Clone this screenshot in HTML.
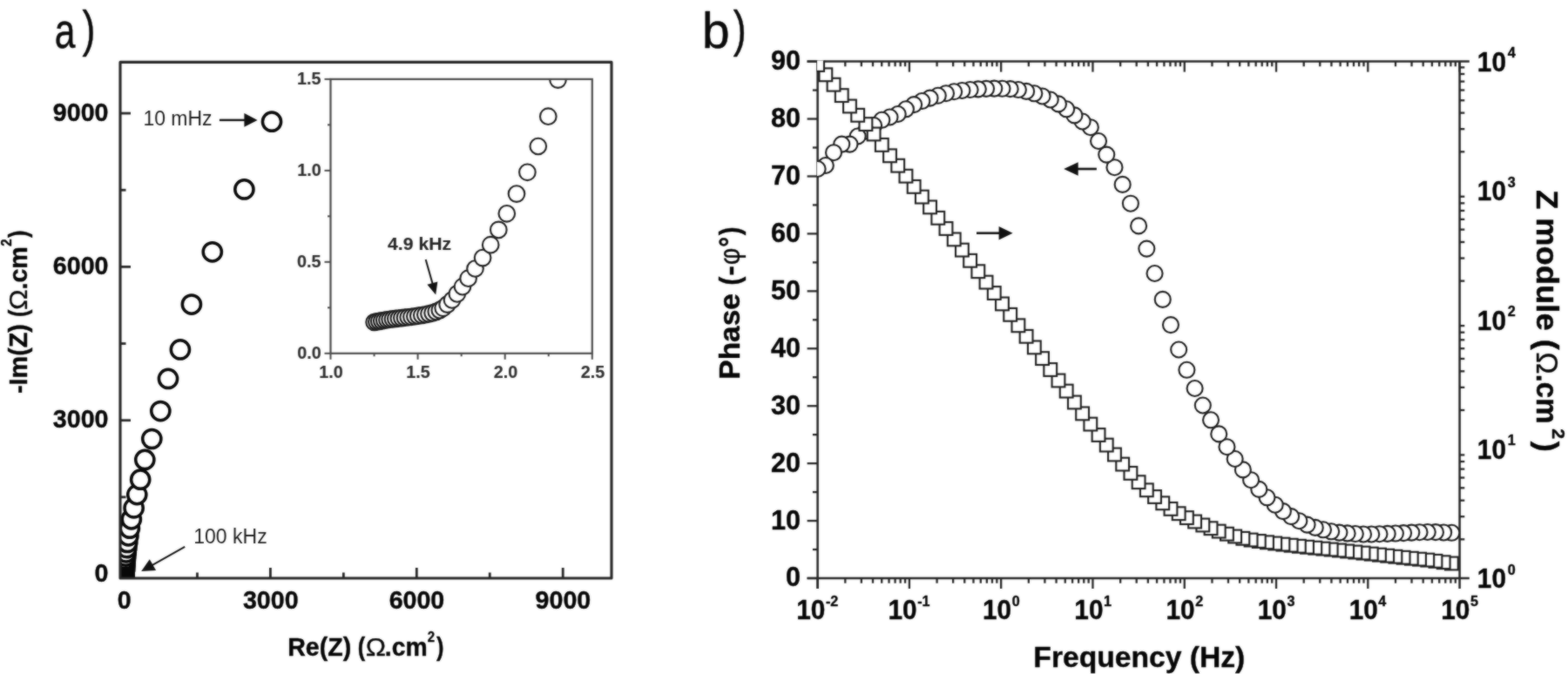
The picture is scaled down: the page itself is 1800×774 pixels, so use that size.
<!DOCTYPE html>
<html lang="en"><head><meta charset="utf-8"><title>EIS Nyquist and Bode plots</title>
<style>html,body{margin:0;padding:0;background:#fff;}body{width:1800px;height:774px;overflow:hidden;}svg{display:block;}</style>
</head><body>
<svg width="1800" height="774" viewBox="0 0 1800 774" font-family="'Liberation Sans', Arial, Helvetica, sans-serif">
<defs><filter id="bl" x="0" y="0" width="100%" height="100%" color-interpolation-filters="sRGB"><feGaussianBlur in="SourceGraphic" stdDeviation="0.8" result="b"/><feComposite in="SourceGraphic" in2="b" operator="arithmetic" k1="0" k2="0.45" k3="0.55" k4="0"/></filter></defs>
<g filter="url(#bl)">
<rect width="1800" height="774" fill="#fff"/>
<text font-size="57.5" font-weight="normal" fill="#0a0a0a" stroke="#0a0a0a" stroke-width="0.5" stroke-linejoin="round"><tspan x="62.80" y="54.6" textLength="23.67" lengthAdjust="spacingAndGlyphs">a</tspan><tspan x="94.60" y="53.0" textLength="14.94" lengthAdjust="spacingAndGlyphs">)</tspan></text>
<text font-size="57.5" font-weight="normal" fill="#0a0a0a" stroke="#0a0a0a" stroke-width="0.5" stroke-linejoin="round"><tspan x="806.00" y="54.6" textLength="31.66" lengthAdjust="spacingAndGlyphs">b</tspan><tspan x="841.80" y="53.0" textLength="14.94" lengthAdjust="spacingAndGlyphs">)</tspan></text>
<clipPath id="ca"><rect x="138.0" y="71.4" width="564.0" height="592.6"/></clipPath>
<clipPath id="ci"><rect x="379.4" y="91.0" width="300.4" height="314.8"/></clipPath>
<line x1="142.50" y1="664.00" x2="142.50" y2="652.00" stroke="#262626" stroke-width="2.8" />
<line x1="138.00" y1="659.00" x2="150.00" y2="659.00" stroke="#262626" stroke-width="2.8" />
<line x1="310.40" y1="664.00" x2="310.40" y2="652.00" stroke="#262626" stroke-width="2.8" />
<line x1="138.00" y1="482.70" x2="150.00" y2="482.70" stroke="#262626" stroke-width="2.8" />
<line x1="478.30" y1="664.00" x2="478.30" y2="652.00" stroke="#262626" stroke-width="2.8" />
<line x1="138.00" y1="306.40" x2="150.00" y2="306.40" stroke="#262626" stroke-width="2.8" />
<line x1="646.20" y1="664.00" x2="646.20" y2="652.00" stroke="#262626" stroke-width="2.8" />
<line x1="138.00" y1="130.10" x2="150.00" y2="130.10" stroke="#262626" stroke-width="2.8" />
<line x1="226.45" y1="664.00" x2="226.45" y2="657.50" stroke="#262626" stroke-width="2.8" />
<line x1="138.00" y1="570.85" x2="144.50" y2="570.85" stroke="#262626" stroke-width="2.8" />
<line x1="394.35" y1="664.00" x2="394.35" y2="657.50" stroke="#262626" stroke-width="2.8" />
<line x1="138.00" y1="394.55" x2="144.50" y2="394.55" stroke="#262626" stroke-width="2.8" />
<line x1="562.25" y1="664.00" x2="562.25" y2="657.50" stroke="#262626" stroke-width="2.8" />
<line x1="138.00" y1="218.25" x2="144.50" y2="218.25" stroke="#262626" stroke-width="2.8" />
<g clip-path="url(#ca)" fill="#fff" stroke="#080808" stroke-width="3.5">
<circle cx="142.58" cy="658.99" r="10.6"/>
<circle cx="142.58" cy="658.99" r="10.6"/>
<circle cx="142.58" cy="658.99" r="10.6"/>
<circle cx="142.58" cy="658.99" r="10.6"/>
<circle cx="142.58" cy="658.99" r="10.6"/>
<circle cx="142.58" cy="658.99" r="10.6"/>
<circle cx="142.59" cy="658.99" r="10.6"/>
<circle cx="142.59" cy="658.99" r="10.6"/>
<circle cx="142.59" cy="658.99" r="10.6"/>
<circle cx="142.59" cy="658.99" r="10.6"/>
<circle cx="142.59" cy="658.99" r="10.6"/>
<circle cx="142.59" cy="658.99" r="10.6"/>
<circle cx="142.59" cy="658.99" r="10.6"/>
<circle cx="142.60" cy="658.99" r="10.6"/>
<circle cx="142.60" cy="658.99" r="10.6"/>
<circle cx="142.60" cy="658.99" r="10.6"/>
<circle cx="142.60" cy="658.99" r="10.6"/>
<circle cx="142.60" cy="658.98" r="10.6"/>
<circle cx="142.60" cy="658.98" r="10.6"/>
<circle cx="142.60" cy="658.98" r="10.6"/>
<circle cx="142.61" cy="658.98" r="10.6"/>
<circle cx="142.61" cy="658.98" r="10.6"/>
<circle cx="142.61" cy="658.98" r="10.6"/>
<circle cx="142.61" cy="658.97" r="10.6"/>
<circle cx="142.61" cy="658.97" r="10.6"/>
<circle cx="142.61" cy="658.97" r="10.6"/>
<circle cx="142.61" cy="658.96" r="10.6"/>
<circle cx="142.62" cy="658.96" r="10.6"/>
<circle cx="142.62" cy="658.95" r="10.6"/>
<circle cx="142.62" cy="658.94" r="10.6"/>
<circle cx="142.63" cy="658.93" r="10.6"/>
<circle cx="142.63" cy="658.92" r="10.6"/>
<circle cx="142.64" cy="658.91" r="10.6"/>
<circle cx="142.64" cy="658.90" r="10.6"/>
<circle cx="142.64" cy="658.88" r="10.6"/>
<circle cx="142.65" cy="658.86" r="10.6"/>
<circle cx="142.65" cy="658.83" r="10.6"/>
<circle cx="142.65" cy="658.80" r="10.6"/>
<circle cx="142.65" cy="658.76" r="10.6"/>
<circle cx="142.66" cy="658.71" r="10.6"/>
<circle cx="142.66" cy="658.65" r="10.6"/>
<circle cx="142.67" cy="658.58" r="10.6"/>
<circle cx="142.67" cy="658.49" r="10.6"/>
<circle cx="142.68" cy="658.39" r="10.6"/>
<circle cx="142.68" cy="658.26" r="10.6"/>
<circle cx="142.68" cy="658.10" r="10.6"/>
<circle cx="142.70" cy="657.91" r="10.6"/>
<circle cx="142.72" cy="657.66" r="10.6"/>
<circle cx="142.74" cy="657.36" r="10.6"/>
<circle cx="142.76" cy="657.02" r="10.6"/>
<circle cx="142.78" cy="656.59" r="10.6"/>
<circle cx="142.81" cy="656.05" r="10.6"/>
<circle cx="142.85" cy="655.41" r="10.6"/>
<circle cx="142.90" cy="654.63" r="10.6"/>
<circle cx="142.96" cy="653.69" r="10.6"/>
<circle cx="143.04" cy="652.56" r="10.6"/>
<circle cx="143.15" cy="651.19" r="10.6"/>
<circle cx="143.29" cy="649.53" r="10.6"/>
<circle cx="143.46" cy="647.52" r="10.6"/>
<circle cx="143.68" cy="645.08" r="10.6"/>
<circle cx="143.96" cy="642.13" r="10.6"/>
<circle cx="144.32" cy="638.62" r="10.6"/>
<circle cx="144.79" cy="634.38" r="10.6"/>
<circle cx="145.43" cy="629.17" r="10.6"/>
<circle cx="146.28" cy="622.97" r="10.6"/>
<circle cx="147.42" cy="615.36" r="10.6"/>
<circle cx="148.89" cy="606.65" r="10.6"/>
<circle cx="150.84" cy="596.31" r="10.6"/>
<circle cx="153.63" cy="583.38" r="10.6"/>
<circle cx="157.30" cy="568.11" r="10.6"/>
<circle cx="161.18" cy="550.69" r="10.6"/>
<circle cx="166.30" cy="527.90" r="10.6"/>
<circle cx="174.30" cy="504.00" r="10.6"/>
<circle cx="184.30" cy="472.10" r="10.6"/>
<circle cx="193.00" cy="434.90" r="10.6"/>
<circle cx="206.90" cy="401.40" r="10.6"/>
<circle cx="219.90" cy="349.60" r="10.6"/>
<circle cx="243.80" cy="289.30" r="10.6"/>
<circle cx="280.40" cy="217.40" r="10.6"/>
<circle cx="312.00" cy="139.70" r="10.6"/>
</g>
<rect x="138.0" y="71.4" width="564.0" height="592.6" fill="none" stroke="#262626" stroke-width="3.1" stroke-linejoin="round"/>
<text transform="translate(134.66,698.70) scale(0.9700,1)" font-size="29.50" font-weight="bold" text-anchor="start" fill="#050505" stroke="#050505" stroke-width="0.40" stroke-linejoin="round">0</text>
<text transform="translate(108.56,667.74) scale(0.9700,1)" font-size="29.50" font-weight="bold" text-anchor="start" fill="#050505" stroke="#050505" stroke-width="0.40" stroke-linejoin="round">0</text>
<text transform="translate(278.95,698.70) scale(0.9700,1)" font-size="29.50" font-weight="bold" text-anchor="start" fill="#050505" stroke="#050505" stroke-width="0.40" stroke-linejoin="round">3000</text>
<text transform="translate(60.85,491.40) scale(0.9700,1)" font-size="29.50" font-weight="bold" text-anchor="start" fill="#050505" stroke="#050505" stroke-width="0.40" stroke-linejoin="round">3000</text>
<text transform="translate(446.64,698.70) scale(0.9700,1)" font-size="29.50" font-weight="bold" text-anchor="start" fill="#050505" stroke="#050505" stroke-width="0.40" stroke-linejoin="round">6000</text>
<text transform="translate(60.85,315.14) scale(0.9700,1)" font-size="29.50" font-weight="bold" text-anchor="start" fill="#050505" stroke="#050505" stroke-width="0.40" stroke-linejoin="round">6000</text>
<text transform="translate(614.57,698.70) scale(0.9700,1)" font-size="29.50" font-weight="bold" text-anchor="start" fill="#050505" stroke="#050505" stroke-width="0.40" stroke-linejoin="round">9000</text>
<text transform="translate(60.85,138.84) scale(0.9700,1)" font-size="29.50" font-weight="bold" text-anchor="start" fill="#050505" stroke="#050505" stroke-width="0.40" stroke-linejoin="round">9000</text>
<text transform="translate(0.00,753.30)" font-size="29.00" font-weight="bold" fill="#050505" stroke="#050505" stroke-width="0.4" stroke-linejoin="round"><tspan x="330.22" y="0.00" textLength="72.96" lengthAdjust="spacingAndGlyphs">Re(Z)</tspan> <tspan x="410.82" y="0.00" textLength="8.50" lengthAdjust="spacingAndGlyphs">(</tspan><tspan x="419.72" y="0.00" textLength="23.36" lengthAdjust="spacingAndGlyphs" font-weight="normal" stroke-width="0.25">Ω</tspan><tspan x="441.84" y="0.00" textLength="48.83" lengthAdjust="spacingAndGlyphs">.cm</tspan><tspan x="490.87" y="-16.00" textLength="8.32" lengthAdjust="spacingAndGlyphs" font-size="17.00">2</tspan><tspan x="500.96" y="0.00" textLength="8.50" lengthAdjust="spacingAndGlyphs">)</tspan></text>
<text transform="translate(30.70,451.30) rotate(-90)" font-size="29.00" font-weight="bold" fill="#050505" stroke="#050505" stroke-width="0.4" stroke-linejoin="round"><tspan x="-0.70" y="0.00" textLength="79.87" lengthAdjust="spacingAndGlyphs">-Im(Z)</tspan> <tspan x="87.42" y="0.00" textLength="8.50" lengthAdjust="spacingAndGlyphs">(</tspan><tspan x="95.40" y="0.00" textLength="23.81" lengthAdjust="spacingAndGlyphs" font-weight="normal" stroke-width="0.25">Ω</tspan><tspan x="118.72" y="0.00" textLength="49.37" lengthAdjust="spacingAndGlyphs">.cm</tspan><tspan x="168.47" y="-17.40" textLength="8.32" lengthAdjust="spacingAndGlyphs" font-size="17.00">2</tspan><tspan x="178.26" y="0.00" textLength="8.50" lengthAdjust="spacingAndGlyphs">)</tspan></text>
<text transform="translate(164.38,143.70)" font-size="23.00" font-weight="normal" text-anchor="start" fill="#1c1c1c">10 mHz</text>
<line x1="251.90" y1="137.90" x2="282.40" y2="137.90" stroke="#111" stroke-width="2.4" />
<polygon points="295.60,137.90 280.40,145.80 280.40,130.00" fill="#111"/>
<text transform="translate(222.28,624.20)" font-size="23.00" font-weight="normal" text-anchor="start" fill="#1c1c1c">100 kHz</text>
<line x1="212.20" y1="627.80" x2="173.69" y2="649.60" stroke="#111" stroke-width="2.0" />
<polygon points="162.20,656.10 171.78,642.17 179.07,655.05" fill="#111"/>
<rect x="379.5" y="90.9" width="300.29999999999995" height="314.9" fill="#fff" stroke="none"/>
<line x1="379.50" y1="405.80" x2="379.50" y2="412.80" stroke="#4a4a4a" stroke-width="2" />
<line x1="379.50" y1="405.80" x2="372.50" y2="405.80" stroke="#4a4a4a" stroke-width="2" />
<line x1="479.60" y1="405.80" x2="479.60" y2="412.80" stroke="#4a4a4a" stroke-width="2" />
<line x1="379.50" y1="300.83" x2="372.50" y2="300.83" stroke="#4a4a4a" stroke-width="2" />
<line x1="579.70" y1="405.80" x2="579.70" y2="412.80" stroke="#4a4a4a" stroke-width="2" />
<line x1="379.50" y1="195.87" x2="372.50" y2="195.87" stroke="#4a4a4a" stroke-width="2" />
<line x1="679.80" y1="405.80" x2="679.80" y2="412.80" stroke="#4a4a4a" stroke-width="2" />
<line x1="379.50" y1="90.90" x2="372.50" y2="90.90" stroke="#4a4a4a" stroke-width="2" />
<line x1="429.55" y1="405.80" x2="429.55" y2="409.30" stroke="#4a4a4a" stroke-width="2" />
<line x1="379.50" y1="353.32" x2="376.00" y2="353.32" stroke="#4a4a4a" stroke-width="2" />
<line x1="529.65" y1="405.80" x2="529.65" y2="409.30" stroke="#4a4a4a" stroke-width="2" />
<line x1="379.50" y1="248.35" x2="376.00" y2="248.35" stroke="#4a4a4a" stroke-width="2" />
<line x1="629.75" y1="405.80" x2="629.75" y2="409.30" stroke="#4a4a4a" stroke-width="2" />
<line x1="379.50" y1="143.38" x2="376.00" y2="143.38" stroke="#4a4a4a" stroke-width="2" />
<g clip-path="url(#ci)" fill="#fff" stroke="#202020" stroke-width="2.1">
<circle cx="429.60" cy="370.00" r="9.3"/>
<circle cx="432.40" cy="369.44" r="9.3"/>
<circle cx="435.29" cy="368.88" r="9.3"/>
<circle cx="438.25" cy="368.33" r="9.3"/>
<circle cx="441.30" cy="367.79" r="9.3"/>
<circle cx="444.43" cy="367.27" r="9.3"/>
<circle cx="447.64" cy="366.77" r="9.3"/>
<circle cx="450.94" cy="366.30" r="9.3"/>
<circle cx="454.32" cy="365.88" r="9.3"/>
<circle cx="457.80" cy="365.48" r="9.3"/>
<circle cx="461.35" cy="365.09" r="9.3"/>
<circle cx="464.98" cy="364.70" r="9.3"/>
<circle cx="468.69" cy="364.27" r="9.3"/>
<circle cx="472.47" cy="363.80" r="9.3"/>
<circle cx="476.32" cy="363.25" r="9.3"/>
<circle cx="480.26" cy="362.65" r="9.3"/>
<circle cx="484.27" cy="361.99" r="9.3"/>
<circle cx="488.34" cy="361.24" r="9.3"/>
<circle cx="492.44" cy="360.37" r="9.3"/>
<circle cx="496.59" cy="359.31" r="9.3"/>
<circle cx="500.76" cy="357.92" r="9.3"/>
<circle cx="504.82" cy="356.17" r="9.3"/>
<circle cx="508.70" cy="353.80" r="9.3"/>
<circle cx="513.60" cy="349.60" r="9.3"/>
<circle cx="519.00" cy="344.50" r="9.3"/>
<circle cx="524.80" cy="337.40" r="9.3"/>
<circle cx="531.00" cy="329.20" r="9.3"/>
<circle cx="537.60" cy="319.70" r="9.3"/>
<circle cx="545.50" cy="308.50" r="9.3"/>
<circle cx="554.10" cy="296.10" r="9.3"/>
<circle cx="563.20" cy="281.20" r="9.3"/>
<circle cx="572.30" cy="263.90" r="9.3"/>
<circle cx="581.80" cy="245.30" r="9.3"/>
<circle cx="593.00" cy="222.60" r="9.3"/>
<circle cx="605.40" cy="197.80" r="9.3"/>
<circle cx="617.80" cy="168.00" r="9.3"/>
<circle cx="629.30" cy="133.70" r="9.3"/>
<circle cx="640.50" cy="91.60" r="9.3"/>
</g>
<rect x="379.5" y="90.9" width="300.29999999999995" height="314.9" fill="none" stroke="#4a4a4a" stroke-width="2.2"/>
<text transform="translate(366.32,433.70)" font-size="19.80" font-weight="bold" text-anchor="start" fill="#2e2e2e" stroke="#2e2e2e" stroke-width="0.15" stroke-linejoin="round">1.0</text>
<text transform="translate(466.29,433.70)" font-size="19.80" font-weight="bold" text-anchor="start" fill="#2e2e2e" stroke="#2e2e2e" stroke-width="0.15" stroke-linejoin="round">1.5</text>
<text transform="translate(566.79,433.70)" font-size="19.80" font-weight="bold" text-anchor="start" fill="#2e2e2e" stroke="#2e2e2e" stroke-width="0.15" stroke-linejoin="round">2.0</text>
<text transform="translate(666.76,433.70)" font-size="19.80" font-weight="bold" text-anchor="start" fill="#2e2e2e" stroke="#2e2e2e" stroke-width="0.15" stroke-linejoin="round">2.5</text>
<text transform="translate(341.27,411.61)" font-size="19.80" font-weight="bold" text-anchor="start" fill="#2e2e2e" stroke="#2e2e2e" stroke-width="0.15" stroke-linejoin="round">0.0</text>
<text transform="translate(341.02,306.64)" font-size="19.80" font-weight="bold" text-anchor="start" fill="#2e2e2e" stroke="#2e2e2e" stroke-width="0.15" stroke-linejoin="round">0.5</text>
<text transform="translate(341.27,201.67)" font-size="19.80" font-weight="bold" text-anchor="start" fill="#2e2e2e" stroke="#2e2e2e" stroke-width="0.15" stroke-linejoin="round">1.0</text>
<text transform="translate(341.02,96.61)" font-size="19.80" font-weight="bold" text-anchor="start" fill="#2e2e2e" stroke="#2e2e2e" stroke-width="0.15" stroke-linejoin="round">1.5</text>
<text transform="translate(445.04,287.00) scale(1.0400,1)" font-size="20.40" font-weight="bold" text-anchor="start" fill="#262626" stroke="#262626" stroke-width="0.15" stroke-linejoin="round">4.9 kHz</text>
<line x1="488.70" y1="298.00" x2="496.93" y2="327.05" stroke="#111" stroke-width="2.0" />
<polygon points="500.20,338.60 490.42,326.82 502.35,323.44" fill="#111"/>
<clipPath id="cb"><rect x="938.0" y="69.6" width="738.1999999999999" height="594.4"/></clipPath>
<line x1="926.60" y1="70.60" x2="1686.80" y2="70.60" stroke="#262626" stroke-width="2.5" />
<line x1="926.60" y1="664.00" x2="1686.80" y2="664.00" stroke="#262626" stroke-width="2.5" />
<line x1="938.60" y1="70.60" x2="938.60" y2="676.00" stroke="#262626" stroke-width="2.5" />
<line x1="1675.60" y1="70.60" x2="1675.60" y2="676.00" stroke="#262626" stroke-width="2.5" />
<line x1="926.60" y1="664.00" x2="938.60" y2="664.00" stroke="#262626" stroke-width="2.3" />
<line x1="932.90" y1="631.03" x2="938.60" y2="631.03" stroke="#262626" stroke-width="2.3" />
<line x1="926.60" y1="598.07" x2="938.60" y2="598.07" stroke="#262626" stroke-width="2.3" />
<line x1="932.90" y1="565.10" x2="938.60" y2="565.10" stroke="#262626" stroke-width="2.3" />
<line x1="926.60" y1="532.13" x2="938.60" y2="532.13" stroke="#262626" stroke-width="2.3" />
<line x1="932.90" y1="499.17" x2="938.60" y2="499.17" stroke="#262626" stroke-width="2.3" />
<line x1="926.60" y1="466.20" x2="938.60" y2="466.20" stroke="#262626" stroke-width="2.3" />
<line x1="932.90" y1="433.23" x2="938.60" y2="433.23" stroke="#262626" stroke-width="2.3" />
<line x1="926.60" y1="400.27" x2="938.60" y2="400.27" stroke="#262626" stroke-width="2.3" />
<line x1="932.90" y1="367.30" x2="938.60" y2="367.30" stroke="#262626" stroke-width="2.3" />
<line x1="926.60" y1="334.33" x2="938.60" y2="334.33" stroke="#262626" stroke-width="2.3" />
<line x1="932.90" y1="301.37" x2="938.60" y2="301.37" stroke="#262626" stroke-width="2.3" />
<line x1="926.60" y1="268.40" x2="938.60" y2="268.40" stroke="#262626" stroke-width="2.3" />
<line x1="932.90" y1="235.43" x2="938.60" y2="235.43" stroke="#262626" stroke-width="2.3" />
<line x1="926.60" y1="202.47" x2="938.60" y2="202.47" stroke="#262626" stroke-width="2.3" />
<line x1="932.90" y1="169.50" x2="938.60" y2="169.50" stroke="#262626" stroke-width="2.3" />
<line x1="926.60" y1="136.53" x2="938.60" y2="136.53" stroke="#262626" stroke-width="2.3" />
<line x1="932.90" y1="103.57" x2="938.60" y2="103.57" stroke="#262626" stroke-width="2.3" />
<line x1="926.60" y1="70.60" x2="938.60" y2="70.60" stroke="#262626" stroke-width="2.3" />
<line x1="938.60" y1="664.00" x2="938.60" y2="676.00" stroke="#262626" stroke-width="2.3" />
<line x1="938.60" y1="70.60" x2="938.60" y2="82.60" stroke="#262626" stroke-width="2.3" />
<line x1="970.29" y1="664.00" x2="970.29" y2="669.70" stroke="#262626" stroke-width="2.3" />
<line x1="970.29" y1="70.60" x2="970.29" y2="76.30" stroke="#262626" stroke-width="2.3" />
<line x1="988.83" y1="664.00" x2="988.83" y2="669.70" stroke="#262626" stroke-width="2.3" />
<line x1="988.83" y1="70.60" x2="988.83" y2="76.30" stroke="#262626" stroke-width="2.3" />
<line x1="1001.99" y1="664.00" x2="1001.99" y2="669.70" stroke="#262626" stroke-width="2.3" />
<line x1="1001.99" y1="70.60" x2="1001.99" y2="76.30" stroke="#262626" stroke-width="2.3" />
<line x1="1012.19" y1="664.00" x2="1012.19" y2="669.70" stroke="#262626" stroke-width="2.3" />
<line x1="1012.19" y1="70.60" x2="1012.19" y2="76.30" stroke="#262626" stroke-width="2.3" />
<line x1="1020.53" y1="664.00" x2="1020.53" y2="669.70" stroke="#262626" stroke-width="2.3" />
<line x1="1020.53" y1="70.60" x2="1020.53" y2="76.30" stroke="#262626" stroke-width="2.3" />
<line x1="1027.58" y1="664.00" x2="1027.58" y2="669.70" stroke="#262626" stroke-width="2.3" />
<line x1="1027.58" y1="70.60" x2="1027.58" y2="76.30" stroke="#262626" stroke-width="2.3" />
<line x1="1033.68" y1="664.00" x2="1033.68" y2="669.70" stroke="#262626" stroke-width="2.3" />
<line x1="1033.68" y1="70.60" x2="1033.68" y2="76.30" stroke="#262626" stroke-width="2.3" />
<line x1="1039.07" y1="664.00" x2="1039.07" y2="669.70" stroke="#262626" stroke-width="2.3" />
<line x1="1039.07" y1="70.60" x2="1039.07" y2="76.30" stroke="#262626" stroke-width="2.3" />
<line x1="1043.89" y1="664.00" x2="1043.89" y2="676.00" stroke="#262626" stroke-width="2.3" />
<line x1="1043.89" y1="70.60" x2="1043.89" y2="82.60" stroke="#262626" stroke-width="2.3" />
<line x1="1075.58" y1="664.00" x2="1075.58" y2="669.70" stroke="#262626" stroke-width="2.3" />
<line x1="1075.58" y1="70.60" x2="1075.58" y2="76.30" stroke="#262626" stroke-width="2.3" />
<line x1="1094.12" y1="664.00" x2="1094.12" y2="669.70" stroke="#262626" stroke-width="2.3" />
<line x1="1094.12" y1="70.60" x2="1094.12" y2="76.30" stroke="#262626" stroke-width="2.3" />
<line x1="1107.27" y1="664.00" x2="1107.27" y2="669.70" stroke="#262626" stroke-width="2.3" />
<line x1="1107.27" y1="70.60" x2="1107.27" y2="76.30" stroke="#262626" stroke-width="2.3" />
<line x1="1117.48" y1="664.00" x2="1117.48" y2="669.70" stroke="#262626" stroke-width="2.3" />
<line x1="1117.48" y1="70.60" x2="1117.48" y2="76.30" stroke="#262626" stroke-width="2.3" />
<line x1="1125.81" y1="664.00" x2="1125.81" y2="669.70" stroke="#262626" stroke-width="2.3" />
<line x1="1125.81" y1="70.60" x2="1125.81" y2="76.30" stroke="#262626" stroke-width="2.3" />
<line x1="1132.86" y1="664.00" x2="1132.86" y2="669.70" stroke="#262626" stroke-width="2.3" />
<line x1="1132.86" y1="70.60" x2="1132.86" y2="76.30" stroke="#262626" stroke-width="2.3" />
<line x1="1138.97" y1="664.00" x2="1138.97" y2="669.70" stroke="#262626" stroke-width="2.3" />
<line x1="1138.97" y1="70.60" x2="1138.97" y2="76.30" stroke="#262626" stroke-width="2.3" />
<line x1="1144.35" y1="664.00" x2="1144.35" y2="669.70" stroke="#262626" stroke-width="2.3" />
<line x1="1144.35" y1="70.60" x2="1144.35" y2="76.30" stroke="#262626" stroke-width="2.3" />
<line x1="1149.17" y1="664.00" x2="1149.17" y2="676.00" stroke="#262626" stroke-width="2.3" />
<line x1="1149.17" y1="70.60" x2="1149.17" y2="82.60" stroke="#262626" stroke-width="2.3" />
<line x1="1180.87" y1="664.00" x2="1180.87" y2="669.70" stroke="#262626" stroke-width="2.3" />
<line x1="1180.87" y1="70.60" x2="1180.87" y2="76.30" stroke="#262626" stroke-width="2.3" />
<line x1="1199.41" y1="664.00" x2="1199.41" y2="669.70" stroke="#262626" stroke-width="2.3" />
<line x1="1199.41" y1="70.60" x2="1199.41" y2="76.30" stroke="#262626" stroke-width="2.3" />
<line x1="1212.56" y1="664.00" x2="1212.56" y2="669.70" stroke="#262626" stroke-width="2.3" />
<line x1="1212.56" y1="70.60" x2="1212.56" y2="76.30" stroke="#262626" stroke-width="2.3" />
<line x1="1222.76" y1="664.00" x2="1222.76" y2="669.70" stroke="#262626" stroke-width="2.3" />
<line x1="1222.76" y1="70.60" x2="1222.76" y2="76.30" stroke="#262626" stroke-width="2.3" />
<line x1="1231.10" y1="664.00" x2="1231.10" y2="669.70" stroke="#262626" stroke-width="2.3" />
<line x1="1231.10" y1="70.60" x2="1231.10" y2="76.30" stroke="#262626" stroke-width="2.3" />
<line x1="1238.15" y1="664.00" x2="1238.15" y2="669.70" stroke="#262626" stroke-width="2.3" />
<line x1="1238.15" y1="70.60" x2="1238.15" y2="76.30" stroke="#262626" stroke-width="2.3" />
<line x1="1244.25" y1="664.00" x2="1244.25" y2="669.70" stroke="#262626" stroke-width="2.3" />
<line x1="1244.25" y1="70.60" x2="1244.25" y2="76.30" stroke="#262626" stroke-width="2.3" />
<line x1="1249.64" y1="664.00" x2="1249.64" y2="669.70" stroke="#262626" stroke-width="2.3" />
<line x1="1249.64" y1="70.60" x2="1249.64" y2="76.30" stroke="#262626" stroke-width="2.3" />
<line x1="1254.46" y1="664.00" x2="1254.46" y2="676.00" stroke="#262626" stroke-width="2.3" />
<line x1="1254.46" y1="70.60" x2="1254.46" y2="82.60" stroke="#262626" stroke-width="2.3" />
<line x1="1286.15" y1="664.00" x2="1286.15" y2="669.70" stroke="#262626" stroke-width="2.3" />
<line x1="1286.15" y1="70.60" x2="1286.15" y2="76.30" stroke="#262626" stroke-width="2.3" />
<line x1="1304.69" y1="664.00" x2="1304.69" y2="669.70" stroke="#262626" stroke-width="2.3" />
<line x1="1304.69" y1="70.60" x2="1304.69" y2="76.30" stroke="#262626" stroke-width="2.3" />
<line x1="1317.85" y1="664.00" x2="1317.85" y2="669.70" stroke="#262626" stroke-width="2.3" />
<line x1="1317.85" y1="70.60" x2="1317.85" y2="76.30" stroke="#262626" stroke-width="2.3" />
<line x1="1328.05" y1="664.00" x2="1328.05" y2="669.70" stroke="#262626" stroke-width="2.3" />
<line x1="1328.05" y1="70.60" x2="1328.05" y2="76.30" stroke="#262626" stroke-width="2.3" />
<line x1="1336.39" y1="664.00" x2="1336.39" y2="669.70" stroke="#262626" stroke-width="2.3" />
<line x1="1336.39" y1="70.60" x2="1336.39" y2="76.30" stroke="#262626" stroke-width="2.3" />
<line x1="1343.43" y1="664.00" x2="1343.43" y2="669.70" stroke="#262626" stroke-width="2.3" />
<line x1="1343.43" y1="70.60" x2="1343.43" y2="76.30" stroke="#262626" stroke-width="2.3" />
<line x1="1349.54" y1="664.00" x2="1349.54" y2="669.70" stroke="#262626" stroke-width="2.3" />
<line x1="1349.54" y1="70.60" x2="1349.54" y2="76.30" stroke="#262626" stroke-width="2.3" />
<line x1="1354.93" y1="664.00" x2="1354.93" y2="669.70" stroke="#262626" stroke-width="2.3" />
<line x1="1354.93" y1="70.60" x2="1354.93" y2="76.30" stroke="#262626" stroke-width="2.3" />
<line x1="1359.74" y1="664.00" x2="1359.74" y2="676.00" stroke="#262626" stroke-width="2.3" />
<line x1="1359.74" y1="70.60" x2="1359.74" y2="82.60" stroke="#262626" stroke-width="2.3" />
<line x1="1391.44" y1="664.00" x2="1391.44" y2="669.70" stroke="#262626" stroke-width="2.3" />
<line x1="1391.44" y1="70.60" x2="1391.44" y2="76.30" stroke="#262626" stroke-width="2.3" />
<line x1="1409.98" y1="664.00" x2="1409.98" y2="669.70" stroke="#262626" stroke-width="2.3" />
<line x1="1409.98" y1="70.60" x2="1409.98" y2="76.30" stroke="#262626" stroke-width="2.3" />
<line x1="1423.13" y1="664.00" x2="1423.13" y2="669.70" stroke="#262626" stroke-width="2.3" />
<line x1="1423.13" y1="70.60" x2="1423.13" y2="76.30" stroke="#262626" stroke-width="2.3" />
<line x1="1433.33" y1="664.00" x2="1433.33" y2="669.70" stroke="#262626" stroke-width="2.3" />
<line x1="1433.33" y1="70.60" x2="1433.33" y2="76.30" stroke="#262626" stroke-width="2.3" />
<line x1="1441.67" y1="664.00" x2="1441.67" y2="669.70" stroke="#262626" stroke-width="2.3" />
<line x1="1441.67" y1="70.60" x2="1441.67" y2="76.30" stroke="#262626" stroke-width="2.3" />
<line x1="1448.72" y1="664.00" x2="1448.72" y2="669.70" stroke="#262626" stroke-width="2.3" />
<line x1="1448.72" y1="70.60" x2="1448.72" y2="76.30" stroke="#262626" stroke-width="2.3" />
<line x1="1454.83" y1="664.00" x2="1454.83" y2="669.70" stroke="#262626" stroke-width="2.3" />
<line x1="1454.83" y1="70.60" x2="1454.83" y2="76.30" stroke="#262626" stroke-width="2.3" />
<line x1="1460.21" y1="664.00" x2="1460.21" y2="669.70" stroke="#262626" stroke-width="2.3" />
<line x1="1460.21" y1="70.60" x2="1460.21" y2="76.30" stroke="#262626" stroke-width="2.3" />
<line x1="1465.03" y1="664.00" x2="1465.03" y2="676.00" stroke="#262626" stroke-width="2.3" />
<line x1="1465.03" y1="70.60" x2="1465.03" y2="82.60" stroke="#262626" stroke-width="2.3" />
<line x1="1496.72" y1="664.00" x2="1496.72" y2="669.70" stroke="#262626" stroke-width="2.3" />
<line x1="1496.72" y1="70.60" x2="1496.72" y2="76.30" stroke="#262626" stroke-width="2.3" />
<line x1="1515.26" y1="664.00" x2="1515.26" y2="669.70" stroke="#262626" stroke-width="2.3" />
<line x1="1515.26" y1="70.60" x2="1515.26" y2="76.30" stroke="#262626" stroke-width="2.3" />
<line x1="1528.42" y1="664.00" x2="1528.42" y2="669.70" stroke="#262626" stroke-width="2.3" />
<line x1="1528.42" y1="70.60" x2="1528.42" y2="76.30" stroke="#262626" stroke-width="2.3" />
<line x1="1538.62" y1="664.00" x2="1538.62" y2="669.70" stroke="#262626" stroke-width="2.3" />
<line x1="1538.62" y1="70.60" x2="1538.62" y2="76.30" stroke="#262626" stroke-width="2.3" />
<line x1="1546.96" y1="664.00" x2="1546.96" y2="669.70" stroke="#262626" stroke-width="2.3" />
<line x1="1546.96" y1="70.60" x2="1546.96" y2="76.30" stroke="#262626" stroke-width="2.3" />
<line x1="1554.01" y1="664.00" x2="1554.01" y2="669.70" stroke="#262626" stroke-width="2.3" />
<line x1="1554.01" y1="70.60" x2="1554.01" y2="76.30" stroke="#262626" stroke-width="2.3" />
<line x1="1560.11" y1="664.00" x2="1560.11" y2="669.70" stroke="#262626" stroke-width="2.3" />
<line x1="1560.11" y1="70.60" x2="1560.11" y2="76.30" stroke="#262626" stroke-width="2.3" />
<line x1="1565.50" y1="664.00" x2="1565.50" y2="669.70" stroke="#262626" stroke-width="2.3" />
<line x1="1565.50" y1="70.60" x2="1565.50" y2="76.30" stroke="#262626" stroke-width="2.3" />
<line x1="1570.31" y1="664.00" x2="1570.31" y2="676.00" stroke="#262626" stroke-width="2.3" />
<line x1="1570.31" y1="70.60" x2="1570.31" y2="82.60" stroke="#262626" stroke-width="2.3" />
<line x1="1602.01" y1="664.00" x2="1602.01" y2="669.70" stroke="#262626" stroke-width="2.3" />
<line x1="1602.01" y1="70.60" x2="1602.01" y2="76.30" stroke="#262626" stroke-width="2.3" />
<line x1="1620.55" y1="664.00" x2="1620.55" y2="669.70" stroke="#262626" stroke-width="2.3" />
<line x1="1620.55" y1="70.60" x2="1620.55" y2="76.30" stroke="#262626" stroke-width="2.3" />
<line x1="1633.70" y1="664.00" x2="1633.70" y2="669.70" stroke="#262626" stroke-width="2.3" />
<line x1="1633.70" y1="70.60" x2="1633.70" y2="76.30" stroke="#262626" stroke-width="2.3" />
<line x1="1643.91" y1="664.00" x2="1643.91" y2="669.70" stroke="#262626" stroke-width="2.3" />
<line x1="1643.91" y1="70.60" x2="1643.91" y2="76.30" stroke="#262626" stroke-width="2.3" />
<line x1="1652.24" y1="664.00" x2="1652.24" y2="669.70" stroke="#262626" stroke-width="2.3" />
<line x1="1652.24" y1="70.60" x2="1652.24" y2="76.30" stroke="#262626" stroke-width="2.3" />
<line x1="1659.29" y1="664.00" x2="1659.29" y2="669.70" stroke="#262626" stroke-width="2.3" />
<line x1="1659.29" y1="70.60" x2="1659.29" y2="76.30" stroke="#262626" stroke-width="2.3" />
<line x1="1665.40" y1="664.00" x2="1665.40" y2="669.70" stroke="#262626" stroke-width="2.3" />
<line x1="1665.40" y1="70.60" x2="1665.40" y2="76.30" stroke="#262626" stroke-width="2.3" />
<line x1="1670.78" y1="664.00" x2="1670.78" y2="669.70" stroke="#262626" stroke-width="2.3" />
<line x1="1670.78" y1="70.60" x2="1670.78" y2="76.30" stroke="#262626" stroke-width="2.3" />
<line x1="1675.60" y1="70.60" x2="1675.60" y2="82.60" stroke="#262626" stroke-width="2.3" />
<line x1="1675.60" y1="619.34" x2="1681.30" y2="619.34" stroke="#262626" stroke-width="2.3" />
<line x1="1675.60" y1="593.22" x2="1681.30" y2="593.22" stroke="#262626" stroke-width="2.3" />
<line x1="1675.60" y1="574.68" x2="1681.30" y2="574.68" stroke="#262626" stroke-width="2.3" />
<line x1="1675.60" y1="560.31" x2="1681.30" y2="560.31" stroke="#262626" stroke-width="2.3" />
<line x1="1675.60" y1="548.56" x2="1681.30" y2="548.56" stroke="#262626" stroke-width="2.3" />
<line x1="1675.60" y1="538.63" x2="1681.30" y2="538.63" stroke="#262626" stroke-width="2.3" />
<line x1="1675.60" y1="530.03" x2="1681.30" y2="530.03" stroke="#262626" stroke-width="2.3" />
<line x1="1675.60" y1="522.44" x2="1681.30" y2="522.44" stroke="#262626" stroke-width="2.3" />
<line x1="1675.60" y1="470.99" x2="1681.30" y2="470.99" stroke="#262626" stroke-width="2.3" />
<line x1="1675.60" y1="444.87" x2="1681.30" y2="444.87" stroke="#262626" stroke-width="2.3" />
<line x1="1675.60" y1="426.33" x2="1681.30" y2="426.33" stroke="#262626" stroke-width="2.3" />
<line x1="1675.60" y1="411.96" x2="1681.30" y2="411.96" stroke="#262626" stroke-width="2.3" />
<line x1="1675.60" y1="400.21" x2="1681.30" y2="400.21" stroke="#262626" stroke-width="2.3" />
<line x1="1675.60" y1="390.28" x2="1681.30" y2="390.28" stroke="#262626" stroke-width="2.3" />
<line x1="1675.60" y1="381.68" x2="1681.30" y2="381.68" stroke="#262626" stroke-width="2.3" />
<line x1="1675.60" y1="374.09" x2="1681.30" y2="374.09" stroke="#262626" stroke-width="2.3" />
<line x1="1675.60" y1="322.64" x2="1681.30" y2="322.64" stroke="#262626" stroke-width="2.3" />
<line x1="1675.60" y1="296.52" x2="1681.30" y2="296.52" stroke="#262626" stroke-width="2.3" />
<line x1="1675.60" y1="277.98" x2="1681.30" y2="277.98" stroke="#262626" stroke-width="2.3" />
<line x1="1675.60" y1="263.61" x2="1681.30" y2="263.61" stroke="#262626" stroke-width="2.3" />
<line x1="1675.60" y1="251.86" x2="1681.30" y2="251.86" stroke="#262626" stroke-width="2.3" />
<line x1="1675.60" y1="241.93" x2="1681.30" y2="241.93" stroke="#262626" stroke-width="2.3" />
<line x1="1675.60" y1="233.33" x2="1681.30" y2="233.33" stroke="#262626" stroke-width="2.3" />
<line x1="1675.60" y1="225.74" x2="1681.30" y2="225.74" stroke="#262626" stroke-width="2.3" />
<line x1="1675.60" y1="174.29" x2="1681.30" y2="174.29" stroke="#262626" stroke-width="2.3" />
<line x1="1675.60" y1="148.17" x2="1681.30" y2="148.17" stroke="#262626" stroke-width="2.3" />
<line x1="1675.60" y1="129.63" x2="1681.30" y2="129.63" stroke="#262626" stroke-width="2.3" />
<line x1="1675.60" y1="115.26" x2="1681.30" y2="115.26" stroke="#262626" stroke-width="2.3" />
<line x1="1675.60" y1="103.51" x2="1681.30" y2="103.51" stroke="#262626" stroke-width="2.3" />
<line x1="1675.60" y1="93.58" x2="1681.30" y2="93.58" stroke="#262626" stroke-width="2.3" />
<line x1="1675.60" y1="84.98" x2="1681.30" y2="84.98" stroke="#262626" stroke-width="2.3" />
<line x1="1675.60" y1="77.39" x2="1681.30" y2="77.39" stroke="#262626" stroke-width="2.3" />
<g clip-path="url(#cb)" fill="#fff" stroke="#1e1e1e" stroke-width="2.1">
<circle cx="1666.39" cy="611.79" r="9.0"/>
<circle cx="1657.17" cy="611.45" r="9.0"/>
<circle cx="1647.96" cy="611.13" r="9.0"/>
<circle cx="1638.75" cy="611.00" r="9.0"/>
<circle cx="1629.54" cy="611.19" r="9.0"/>
<circle cx="1620.32" cy="611.60" r="9.0"/>
<circle cx="1611.11" cy="612.10" r="9.0"/>
<circle cx="1601.90" cy="612.53" r="9.0"/>
<circle cx="1592.69" cy="612.88" r="9.0"/>
<circle cx="1583.47" cy="613.23" r="9.0"/>
<circle cx="1574.26" cy="613.47" r="9.0"/>
<circle cx="1565.05" cy="613.44" r="9.0"/>
<circle cx="1555.84" cy="613.05" r="9.0"/>
<circle cx="1546.62" cy="612.40" r="9.0"/>
<circle cx="1537.41" cy="611.60" r="9.0"/>
<circle cx="1528.20" cy="610.30" r="9.0"/>
<circle cx="1518.99" cy="608.30" r="9.0"/>
<circle cx="1509.78" cy="605.90" r="9.0"/>
<circle cx="1500.56" cy="602.60" r="9.0"/>
<circle cx="1491.35" cy="598.20" r="9.0"/>
<circle cx="1482.14" cy="593.10" r="9.0"/>
<circle cx="1472.92" cy="587.10" r="9.0"/>
<circle cx="1463.71" cy="579.70" r="9.0"/>
<circle cx="1454.50" cy="571.30" r="9.0"/>
<circle cx="1445.29" cy="561.90" r="9.0"/>
<circle cx="1436.07" cy="551.20" r="9.0"/>
<circle cx="1426.86" cy="539.40" r="9.0"/>
<circle cx="1417.65" cy="527.00" r="9.0"/>
<circle cx="1408.44" cy="513.20" r="9.0"/>
<circle cx="1399.22" cy="498.40" r="9.0"/>
<circle cx="1390.01" cy="482.30" r="9.0"/>
<circle cx="1380.80" cy="465.50" r="9.0"/>
<circle cx="1371.59" cy="446.00" r="9.0"/>
<circle cx="1362.38" cy="424.80" r="9.0"/>
<circle cx="1353.16" cy="401.50" r="9.0"/>
<circle cx="1343.95" cy="373.10" r="9.0"/>
<circle cx="1334.74" cy="343.90" r="9.0"/>
<circle cx="1325.53" cy="314.00" r="9.0"/>
<circle cx="1316.31" cy="285.60" r="9.0"/>
<circle cx="1307.10" cy="259.40" r="9.0"/>
<circle cx="1297.89" cy="233.70" r="9.0"/>
<circle cx="1288.67" cy="211.90" r="9.0"/>
<circle cx="1279.46" cy="192.20" r="9.0"/>
<circle cx="1270.25" cy="177.60" r="9.0"/>
<circle cx="1261.04" cy="162.00" r="9.0"/>
<circle cx="1251.83" cy="146.20" r="9.0"/>
<circle cx="1242.61" cy="139.50" r="9.0"/>
<circle cx="1233.40" cy="132.40" r="9.0"/>
<circle cx="1224.19" cy="125.30" r="9.0"/>
<circle cx="1214.97" cy="119.40" r="9.0"/>
<circle cx="1205.76" cy="114.50" r="9.0"/>
<circle cx="1196.55" cy="110.45" r="9.0"/>
<circle cx="1187.34" cy="107.32" r="9.0"/>
<circle cx="1178.12" cy="104.91" r="9.0"/>
<circle cx="1168.91" cy="103.04" r="9.0"/>
<circle cx="1159.70" cy="102.17" r="9.0"/>
<circle cx="1150.49" cy="101.76" r="9.0"/>
<circle cx="1141.28" cy="101.60" r="9.0"/>
<circle cx="1132.06" cy="101.84" r="9.0"/>
<circle cx="1122.85" cy="102.33" r="9.0"/>
<circle cx="1113.64" cy="103.01" r="9.0"/>
<circle cx="1104.42" cy="103.98" r="9.0"/>
<circle cx="1095.21" cy="105.26" r="9.0"/>
<circle cx="1086.00" cy="107.22" r="9.0"/>
<circle cx="1076.79" cy="109.76" r="9.0"/>
<circle cx="1067.58" cy="112.63" r="9.0"/>
<circle cx="1058.36" cy="116.04" r="9.0"/>
<circle cx="1049.15" cy="120.08" r="9.0"/>
<circle cx="1039.94" cy="125.27" r="9.0"/>
<circle cx="1030.72" cy="131.00" r="9.0"/>
<circle cx="1021.51" cy="134.50" r="9.0"/>
<circle cx="1012.30" cy="137.80" r="9.0"/>
<circle cx="1003.09" cy="144.00" r="9.0"/>
<circle cx="993.88" cy="150.50" r="9.0"/>
<circle cx="984.66" cy="156.50" r="9.0"/>
<circle cx="975.45" cy="165.60" r="9.0"/>
<circle cx="966.24" cy="165.60" r="9.0"/>
<circle cx="957.02" cy="175.20" r="9.0"/>
<circle cx="947.81" cy="190.00" r="9.0"/>
<circle cx="938.60" cy="194.00" r="9.0"/>
<rect x="1658.99" y="639.61" width="14.8" height="14.8"/>
<rect x="1649.77" y="638.32" width="14.8" height="14.8"/>
<rect x="1640.56" y="636.93" width="14.8" height="14.8"/>
<rect x="1631.35" y="635.71" width="14.8" height="14.8"/>
<rect x="1622.14" y="634.77" width="14.8" height="14.8"/>
<rect x="1612.92" y="633.85" width="14.8" height="14.8"/>
<rect x="1603.71" y="632.86" width="14.8" height="14.8"/>
<rect x="1594.50" y="631.83" width="14.8" height="14.8"/>
<rect x="1585.29" y="630.79" width="14.8" height="14.8"/>
<rect x="1576.07" y="629.74" width="14.8" height="14.8"/>
<rect x="1566.86" y="628.70" width="14.8" height="14.8"/>
<rect x="1557.65" y="627.67" width="14.8" height="14.8"/>
<rect x="1548.44" y="626.63" width="14.8" height="14.8"/>
<rect x="1539.22" y="625.60" width="14.8" height="14.8"/>
<rect x="1530.01" y="624.60" width="14.8" height="14.8"/>
<rect x="1520.80" y="623.63" width="14.8" height="14.8"/>
<rect x="1511.59" y="622.71" width="14.8" height="14.8"/>
<rect x="1502.38" y="621.78" width="14.8" height="14.8"/>
<rect x="1493.16" y="620.83" width="14.8" height="14.8"/>
<rect x="1483.95" y="619.85" width="14.8" height="14.8"/>
<rect x="1474.74" y="618.82" width="14.8" height="14.8"/>
<rect x="1465.52" y="617.72" width="14.8" height="14.8"/>
<rect x="1456.31" y="616.59" width="14.8" height="14.8"/>
<rect x="1447.10" y="615.39" width="14.8" height="14.8"/>
<rect x="1437.89" y="614.08" width="14.8" height="14.8"/>
<rect x="1428.67" y="612.64" width="14.8" height="14.8"/>
<rect x="1419.46" y="610.90" width="14.8" height="14.8"/>
<rect x="1410.25" y="608.60" width="14.8" height="14.8"/>
<rect x="1401.04" y="605.80" width="14.8" height="14.8"/>
<rect x="1391.82" y="602.70" width="14.8" height="14.8"/>
<rect x="1382.61" y="599.30" width="14.8" height="14.8"/>
<rect x="1373.40" y="595.60" width="14.8" height="14.8"/>
<rect x="1364.19" y="591.60" width="14.8" height="14.8"/>
<rect x="1354.97" y="587.20" width="14.8" height="14.8"/>
<rect x="1345.76" y="582.30" width="14.8" height="14.8"/>
<rect x="1336.55" y="577.00" width="14.8" height="14.8"/>
<rect x="1327.34" y="570.40" width="14.8" height="14.8"/>
<rect x="1318.12" y="563.10" width="14.8" height="14.8"/>
<rect x="1308.91" y="555.40" width="14.8" height="14.8"/>
<rect x="1299.70" y="546.30" width="14.8" height="14.8"/>
<rect x="1290.49" y="536.00" width="14.8" height="14.8"/>
<rect x="1281.27" y="525.70" width="14.8" height="14.8"/>
<rect x="1272.06" y="514.60" width="14.8" height="14.8"/>
<rect x="1262.85" y="503.70" width="14.8" height="14.8"/>
<rect x="1253.64" y="492.10" width="14.8" height="14.8"/>
<rect x="1244.42" y="479.70" width="14.8" height="14.8"/>
<rect x="1235.21" y="467.50" width="14.8" height="14.8"/>
<rect x="1226.00" y="454.60" width="14.8" height="14.8"/>
<rect x="1216.79" y="441.70" width="14.8" height="14.8"/>
<rect x="1207.57" y="429.60" width="14.8" height="14.8"/>
<rect x="1198.36" y="417.10" width="14.8" height="14.8"/>
<rect x="1189.15" y="404.20" width="14.8" height="14.8"/>
<rect x="1179.94" y="391.51" width="14.8" height="14.8"/>
<rect x="1170.72" y="378.92" width="14.8" height="14.8"/>
<rect x="1161.51" y="366.40" width="14.8" height="14.8"/>
<rect x="1152.30" y="353.94" width="14.8" height="14.8"/>
<rect x="1143.09" y="341.52" width="14.8" height="14.8"/>
<rect x="1133.88" y="329.12" width="14.8" height="14.8"/>
<rect x="1124.66" y="316.72" width="14.8" height="14.8"/>
<rect x="1115.45" y="304.30" width="14.8" height="14.8"/>
<rect x="1106.24" y="291.90" width="14.8" height="14.8"/>
<rect x="1097.02" y="279.70" width="14.8" height="14.8"/>
<rect x="1087.81" y="267.50" width="14.8" height="14.8"/>
<rect x="1078.60" y="255.10" width="14.8" height="14.8"/>
<rect x="1069.39" y="242.90" width="14.8" height="14.8"/>
<rect x="1060.17" y="230.50" width="14.8" height="14.8"/>
<rect x="1050.96" y="218.70" width="14.8" height="14.8"/>
<rect x="1041.75" y="207.00" width="14.8" height="14.8"/>
<rect x="1032.54" y="194.80" width="14.8" height="14.8"/>
<rect x="1023.32" y="182.80" width="14.8" height="14.8"/>
<rect x="1014.11" y="171.40" width="14.8" height="14.8"/>
<rect x="1004.90" y="159.00" width="14.8" height="14.8"/>
<rect x="995.69" y="146.60" width="14.8" height="14.8"/>
<rect x="986.48" y="135.20" width="14.8" height="14.8"/>
<rect x="977.26" y="124.90" width="14.8" height="14.8"/>
<rect x="968.05" y="114.60" width="14.8" height="14.8"/>
<rect x="958.84" y="102.20" width="14.8" height="14.8"/>
<rect x="949.62" y="89.80" width="14.8" height="14.8"/>
<rect x="940.41" y="78.40" width="14.8" height="14.8"/>
<rect x="931.20" y="67.10" width="14.8" height="14.8"/>
</g>
<text transform="translate(902.01,673.46) scale(0.9700,1)" font-size="31.60" font-weight="bold" text-anchor="start" fill="#050505" stroke="#050505" stroke-width="0.40" stroke-linejoin="round">0</text>
<text transform="translate(885.00,607.53) scale(0.9700,1)" font-size="31.60" font-weight="bold" text-anchor="start" fill="#050505" stroke="#050505" stroke-width="0.40" stroke-linejoin="round">10</text>
<text transform="translate(885.00,541.60) scale(0.9700,1)" font-size="31.60" font-weight="bold" text-anchor="start" fill="#050505" stroke="#050505" stroke-width="0.40" stroke-linejoin="round">20</text>
<text transform="translate(885.00,475.62) scale(0.9700,1)" font-size="31.60" font-weight="bold" text-anchor="start" fill="#050505" stroke="#050505" stroke-width="0.40" stroke-linejoin="round">30</text>
<text transform="translate(885.00,409.73) scale(0.9700,1)" font-size="31.60" font-weight="bold" text-anchor="start" fill="#050505" stroke="#050505" stroke-width="0.40" stroke-linejoin="round">40</text>
<text transform="translate(885.00,343.80) scale(0.9700,1)" font-size="31.60" font-weight="bold" text-anchor="start" fill="#050505" stroke="#050505" stroke-width="0.40" stroke-linejoin="round">50</text>
<text transform="translate(885.00,277.86) scale(0.9700,1)" font-size="31.60" font-weight="bold" text-anchor="start" fill="#050505" stroke="#050505" stroke-width="0.40" stroke-linejoin="round">60</text>
<text transform="translate(885.00,211.93) scale(0.9700,1)" font-size="31.60" font-weight="bold" text-anchor="start" fill="#050505" stroke="#050505" stroke-width="0.40" stroke-linejoin="round">70</text>
<text transform="translate(885.00,146.00) scale(0.9700,1)" font-size="31.60" font-weight="bold" text-anchor="start" fill="#050505" stroke="#050505" stroke-width="0.40" stroke-linejoin="round">80</text>
<text transform="translate(885.00,80.06) scale(0.9700,1)" font-size="31.60" font-weight="bold" text-anchor="start" fill="#050505" stroke="#050505" stroke-width="0.40" stroke-linejoin="round">90</text>
<text transform="translate(914.23,711.00) scale(0.9500,1)" font-size="31.40" font-weight="bold" text-anchor="start" fill="#050505" stroke="#050505" stroke-width="0.40" stroke-linejoin="round">10<tspan dy="-14.6" dx="0.6" font-size="17">-2</tspan></text>
<text transform="translate(1019.43,711.00) scale(0.9500,1)" font-size="31.40" font-weight="bold" text-anchor="start" fill="#050505" stroke="#050505" stroke-width="0.40" stroke-linejoin="round">10<tspan dy="-14.6" dx="0.6" font-size="17">-1</tspan></text>
<text transform="translate(1127.98,711.00) scale(0.9500,1)" font-size="31.40" font-weight="bold" text-anchor="start" fill="#050505" stroke="#050505" stroke-width="0.40" stroke-linejoin="round">10<tspan dy="-14.6" dx="0.6" font-size="17">0</tspan></text>
<text transform="translate(1233.35,711.00) scale(0.9500,1)" font-size="31.40" font-weight="bold" text-anchor="start" fill="#050505" stroke="#050505" stroke-width="0.40" stroke-linejoin="round">10<tspan dy="-14.6" dx="0.6" font-size="17">1</tspan></text>
<text transform="translate(1338.49,711.00) scale(0.9500,1)" font-size="31.40" font-weight="bold" text-anchor="start" fill="#050505" stroke="#050505" stroke-width="0.40" stroke-linejoin="round">10<tspan dy="-14.6" dx="0.6" font-size="17">2</tspan></text>
<text transform="translate(1443.65,711.00) scale(0.9500,1)" font-size="31.40" font-weight="bold" text-anchor="start" fill="#050505" stroke="#050505" stroke-width="0.40" stroke-linejoin="round">10<tspan dy="-14.6" dx="0.6" font-size="17">3</tspan></text>
<text transform="translate(1548.63,711.00) scale(0.9500,1)" font-size="31.40" font-weight="bold" text-anchor="start" fill="#050505" stroke="#050505" stroke-width="0.40" stroke-linejoin="round">10<tspan dy="-14.6" dx="0.6" font-size="17">4</tspan></text>
<text transform="translate(1654.22,711.00) scale(0.9500,1)" font-size="31.40" font-weight="bold" text-anchor="start" fill="#050505" stroke="#050505" stroke-width="0.40" stroke-linejoin="round">10<tspan dy="-14.6" dx="0.6" font-size="17">5</tspan></text>
<text transform="translate(1695.84,675.39) scale(0.9500,1)" font-size="31.40" font-weight="bold" text-anchor="start" fill="#050505" stroke="#050505" stroke-width="0.40" stroke-linejoin="round">10<tspan dy="-15.8" dx="1.8" font-size="17">0</tspan></text>
<text transform="translate(1695.84,527.04) scale(0.9500,1)" font-size="31.40" font-weight="bold" text-anchor="start" fill="#050505" stroke="#050505" stroke-width="0.40" stroke-linejoin="round">10<tspan dy="-15.8" dx="1.8" font-size="17">1</tspan></text>
<text transform="translate(1695.84,378.69) scale(0.9500,1)" font-size="31.40" font-weight="bold" text-anchor="start" fill="#050505" stroke="#050505" stroke-width="0.40" stroke-linejoin="round">10<tspan dy="-15.8" dx="1.8" font-size="17">2</tspan></text>
<text transform="translate(1695.84,230.34) scale(0.9500,1)" font-size="31.40" font-weight="bold" text-anchor="start" fill="#050505" stroke="#050505" stroke-width="0.40" stroke-linejoin="round">10<tspan dy="-15.8" dx="1.8" font-size="17">3</tspan></text>
<text transform="translate(1695.84,81.99) scale(0.9500,1)" font-size="31.40" font-weight="bold" text-anchor="start" fill="#050505" stroke="#050505" stroke-width="0.40" stroke-linejoin="round">10<tspan dy="-15.8" dx="1.8" font-size="17">4</tspan></text>
<text transform="translate(1307.80,765.60) scale(1.0130,1)" font-size="33.20" font-weight="bold" text-anchor="middle" fill="#050505" stroke="#050505" stroke-width="0.40" stroke-linejoin="round">Frequency (Hz)</text>
<text transform="translate(849.00,433.90) rotate(-90)" font-size="33.40" font-weight="bold" fill="#050505" stroke="#050505" stroke-width="0.4" stroke-linejoin="round"><tspan x="-1.81" y="0.00" textLength="98.70" lengthAdjust="spacingAndGlyphs">Phase</tspan> <tspan x="106.48" y="0.00" textLength="9.79" lengthAdjust="spacingAndGlyphs">(</tspan><tspan x="117.26" y="0.00" textLength="11.61" lengthAdjust="spacingAndGlyphs">-</tspan><tspan x="129.66" y="0.00" textLength="19.63" lengthAdjust="spacingAndGlyphs" font-weight="normal" stroke-width="0.25">φ</tspan><tspan x="150.07" y="0.00" textLength="11.75" lengthAdjust="spacingAndGlyphs">°</tspan><tspan x="163.71" y="0.00" textLength="9.79" lengthAdjust="spacingAndGlyphs">)</tspan></text>
<text transform="translate(1763.90,218.50) rotate(90)" font-size="35.20" font-weight="bold" fill="#050505" stroke="#050505" stroke-width="0.4" stroke-linejoin="round"><tspan x="-0.64" y="0.00" textLength="161.75" lengthAdjust="spacingAndGlyphs">Z module</tspan> <tspan x="171.34" y="0.00" textLength="12.02" lengthAdjust="spacingAndGlyphs">(</tspan><tspan x="185.81" y="0.00" textLength="25.39" lengthAdjust="spacingAndGlyphs" font-weight="normal" stroke-width="0.25">Ω</tspan><tspan x="211.23" y="0.00" textLength="56.72" lengthAdjust="spacingAndGlyphs">.cm</tspan><tspan x="273.70" y="-18.60" textLength="11.87" lengthAdjust="spacingAndGlyphs" font-size="19.50">2</tspan><tspan x="288.26" y="0.00" textLength="12.01" lengthAdjust="spacingAndGlyphs">)</tspan></text>
<line x1="1258.90" y1="194.00" x2="1235.70" y2="194.00" stroke="#111" stroke-width="2.6" />
<polygon points="1221.20,194.00 1237.70,186.20 1237.70,201.80" fill="#111"/>
<line x1="1121.00" y1="267.70" x2="1148.60" y2="267.70" stroke="#111" stroke-width="2.6" />
<polygon points="1162.60,267.70 1146.60,275.50 1146.60,259.90" fill="#111"/>
</g>
</svg>
</body></html>
